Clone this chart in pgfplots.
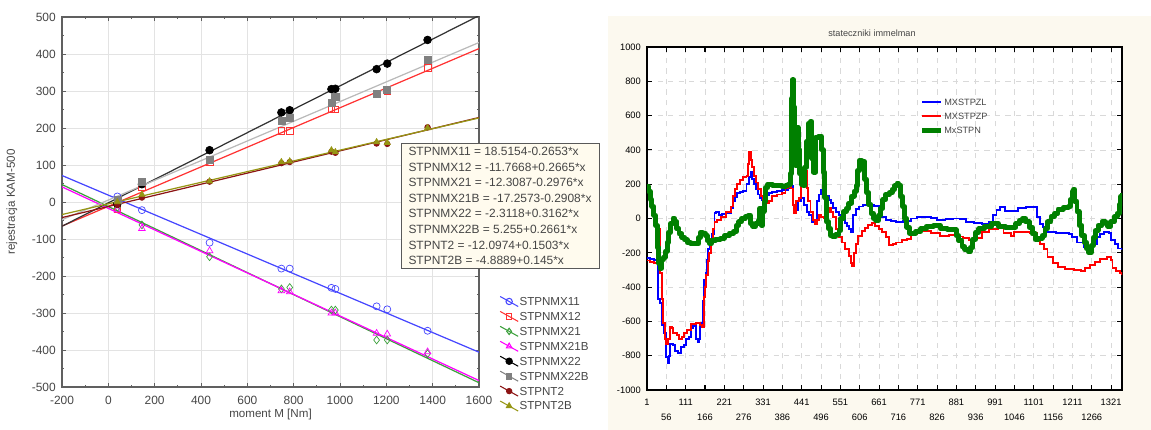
\documentclass[border=0pt]{standalone}
\usepackage{fontspec}
\setmainfont{Liberation Sans}
\usepackage{pgfplots}
\pgfplotsset{compat=1.18}

\definecolor{panelbg}{RGB}{252,249,239}
\definecolor{boxbg}{RGB}{255,251,238}
\definecolor{c11}{RGB}{70,70,255}
\definecolor{c12}{RGB}{255,50,50}
\definecolor{c21}{RGB}{60,160,60}
\definecolor{c21b}{RGB}{255,0,255}
\definecolor{c22b}{RGB}{150,150,150}
\definecolor{ct2}{RGB}{140,20,20}
\definecolor{ct2b}{RGB}{150,150,20}
\definecolor{tickgray}{RGB}{70,70,70}

\pgfplotsset{
  diaglegend/.style={legend image code/.code={
    \draw[##1, mark=none] (0cm,0.1cm) -- (0.36cm,-0.1cm);
    \draw[##1] plot coordinates {(0.18cm,0cm)};}},
}

\begin{document}
\begin{tikzpicture}
\path[use as bounding box] (0,0) rectangle (23.02cm,8.6cm);

% ---------- left panel: regressions ----------
\begin{axis}[
  name=L, at={(1.24cm,0.86cm)}, anchor=south west,
  width=8.34cm, height=7.40cm, scale only axis,
  xmin=-200, xmax=1600, ymin=-500, ymax=500,
  xtick={-200,0,...,1600}, ytick={-500,-400,...,500},
  minor x tick num=1, minor y tick num=1,
  tick align=inside, major tick length=2.2pt, minor tick length=1.4pt,
  grid=major, major grid style={gray!22, line width=0.4pt},
  axis line style={gray!75!black, line width=0.8pt},
  tick style={gray!75!black, line width=0.5pt},
  tick label style={font=\fontsize{6.8}{8}\selectfont, text=tickgray},
  xticklabel style={yshift=-1.8pt},
  /pgf/number format/assume math mode=true,
  /pgf/number format/1000 sep={},
  xlabel={moment M [Nm]}, ylabel={rejestracja KAM-500},
  label style={font=\fontsize{6.6}{8}\selectfont, text=tickgray},
  xlabel style={at={(axis description cs:0.5,-0.074)}, anchor=center},
  ylabel style={at={(axis description cs:-0.12,0.5)}, anchor=center},
  legend style={at={(1.036,0.257)}, anchor=north west, draw=none, fill=none,
    font=\fontsize{6.6}{8}\selectfont, text=tickgray, row sep=2.0pt,
    nodes={inner sep=0.5pt, text height=5pt, text depth=0.5pt},
    /tikz/every even column/.append style={column sep=3pt}},
  legend cell align=left,
]
% fitted lines
\addplot[c11, line width=0.7pt, forget plot] coordinates {(-200,71.58) (1600,-405.96)};
\addplot[c12, line width=0.7pt, forget plot] coordinates {(-200,-65.07) (1600,414.63)};
\addplot[c21, line width=0.7pt, forget plot] coordinates {(-200,47.21) (1600,-488.47)};
\addplot[c21b, line width=0.7pt, forget plot] coordinates {(-200,40.90) (1600,-482.54)};
\addplot[black!80, line width=0.7pt, forget plot] coordinates {(-200,-65.55) (1600,503.61)};
\addplot[gray!55, line width=0.7pt, forget plot] coordinates {(-200,-47.97) (1600,431.02)};
\addplot[ct2, line width=0.7pt, forget plot] coordinates {(-200,-42.16) (1600,228.38)};
\addplot[ct2b, line width=0.7pt, forget plot] coordinates {(-200,-33.89) (1600,227.11)};
% measured points
\addplot[c11, only marks, mark=o, mark size=2pt, forget plot] coordinates {
 (39,15) (145,-22) (437,-110) (747,-180) (783,-180) (963,-232) (980,-235) (1158,-282) (1204,-290) (1378,-348)};
\addplot[c12, only marks, mark=square, mark size=1.9pt, forget plot] coordinates {
 (39,-20) (145,40) (437,108) (747,193) (783,193) (963,250) (980,250) (1158,292) (1204,300) (1378,362)};
\addplot[c21, only marks, mark=diamond, mark size=2.2pt, forget plot] coordinates {
 (39,-15) (145,-62) (437,-148) (747,-235) (783,-231) (963,-292) (980,-292) (1158,-373) (1204,-373) (1378,-410)};
\addplot[c21b, only marks, mark=triangle, mark size=2.2pt, forget plot] coordinates {
 (39,-22) (145,-72) (437,-132) (747,-240) (783,-243) (963,-300) (980,-300) (1158,-355) (1204,-357) (1378,-405)};
\addplot[black, only marks, mark=*, mark size=2.2pt, forget plot] coordinates {
 (39,-5) (145,48) (437,140) (747,242) (783,248) (963,305) (980,306) (1158,359) (1204,374) (1378,438)};
\addplot[gray, only marks, mark=square*, mark size=2pt, forget plot] coordinates {
 (39,5) (145,55) (437,115) (747,218) (783,228) (963,268) (980,283) (1158,292) (1204,302) (1378,385)};
\addplot[ct2, only marks, mark=*, mark size=1.6pt, forget plot] coordinates {
 (39,-8) (145,12) (437,55) (747,105) (783,108) (963,136) (980,133) (1158,158) (1204,157) (1378,202)};
\addplot[ct2b, only marks, mark=triangle*, mark size=2pt, forget plot] coordinates {
 (39,0) (145,20) (437,56) (747,108) (783,110) (963,140) (980,135) (1158,162) (1204,160) (1378,200)};
% legend
\addlegendimage{c11, mark=o, mark size=1.8pt, line width=0.6pt, diaglegend}
\addlegendentry{STPNMX11}
\addlegendimage{c12, mark=square, mark size=1.6pt, line width=0.6pt, diaglegend}
\addlegendentry{STPNMX12}
\addlegendimage{c21, mark=diamond, mark size=1.8pt, line width=0.6pt, diaglegend}
\addlegendentry{STPNMX21}
\addlegendimage{c21b, mark=triangle, mark size=1.8pt, line width=0.6pt, diaglegend}
\addlegendentry{STPNMX21B}
\addlegendimage{black, mark=*, mark size=1.8pt, line width=0.6pt, diaglegend}
\addlegendentry{STPNMX22}
\addlegendimage{gray, mark=square*, mark size=1.6pt, line width=0.6pt, diaglegend}
\addlegendentry{STPNMX22B}
\addlegendimage{ct2, mark=*, mark size=1.5pt, line width=0.6pt, diaglegend}
\addlegendentry{STPNT2}
\addlegendimage{ct2b, mark=triangle*, mark size=1.8pt, line width=0.6pt, diaglegend}
\addlegendentry{STPNT2B}
\end{axis}

\node[anchor=north west, draw=gray!70!black, line width=0.6pt, fill=boxbg,
  minimum width=3.96cm, minimum height=2.5cm, inner sep=2pt, align=left,
  font=\fontsize{6.8}{8.85}\selectfont, text=tickgray] at (8.01cm,5.74cm) {%
STPNMX11 = 18.5154-0.2653*x\\
STPNMX12 = -11.7668+0.2665*x\\
STPNMX21 = -12.3087-0.2976*x\\
STPNMX21B = -17.2573-0.2908*x\\
STPNMX22 = -2.3118+0.3162*x\\
STPNMX22B = 5.255+0.2661*x\\
STPNT2 = -12.0974+0.1503*x\\
STPNT2B = -4.8889+0.145*x};

% ---------- right panel: time series ----------
\fill[panelbg] (12.16cm,0) rectangle (23.02cm,8.28cm);
\node[font=\fontsize{5.2}{6}\selectfont, text=tickgray] at (17.44cm,7.94cm) {stateczniki immelman};

\begin{axis}[
  name=R, at={(12.94cm,0.80cm)}, anchor=south west,
  width=9.50cm, height=6.86cm, scale only axis,
  xmin=1, xmax=1352, ymin=-1000, ymax=1000,
  xtick={1,111,...,1321}, ytick={-1000,-800,...,1000},
  extra x ticks={56,166,...,1266},
  extra x tick style={grid=major, tick label style={yshift=-8.5pt}},
  tick align=inside, major tick length=2.8pt,
  axis line style={black, line width=1.1pt},
  tick style={black, line width=0.6pt},
  grid=major, major grid style={gray!30, dashed, line width=0.4pt},
  axis background/.style={fill=white},
  tick label style={font=\fontsize{5.3}{6}\selectfont},
  xticklabel style={yshift=-1.8pt},
  /pgf/number format/assume math mode=true,
  /pgf/number format/1000 sep={},
  legend style={at={(0.562,0.865)}, anchor=north west, draw=none, fill=none,
    font=\fontsize{5.2}{6}\selectfont, text=tickgray, row sep=2.6pt,
    nodes={inner sep=0.5pt, text height=4pt, text depth=0.5pt},
    /tikz/every even column/.append style={column sep=2pt}},
  legend cell align=left,
  legend image code/.code={\draw[#1] (0cm,0cm) -- (0.38cm,0cm);},
]
\addplot[blue, line width=1.1pt, const plot] coordinates {
(1,-230) (10,-235) (20,-240) (30,-245) (33,-470) (38,-495) (44,-620) (50,-670)
(55,-810) (60,-845) (64,-800) (67,-730) (75,-740) (80,-770) (90,-785) (98,-750)
(106,-740) (112,-700) (120,-690) (125,-640) (132,-625) (139,-620) (141,-700)
(146,-720) (150,-700) (153,-610) (160,-480) (164,-360) (168,-320) (171,-240)
(175,-180) (180,-130) (186,-90) (193,30) (198,40) (205,20) (215,25) (225,30)
(239,60) (245,100) (250,125) (257,150) (265,155) (275,160) (284,200) (290,240)
(296,270) (300,230) (305,200) (310,170) (316,140) (322,120) (328,110) (334,120)
(340,135) (348,150) (357,155) (370,160) (385,165) (402,180) (410,190) (416,80)
(422,50) (430,100) (438,120) (447,80) (455,40) (462,20) (470,-20) (478,-30)
(484,100) (490,140) (497,165) (505,150) (511,130) (518,110) (525,90) (529,60)
(538,40) (547,20) (556,-5) (563,-25) (570,-45) (575,-60) (580,-80) (588,20)
(595,55) (605,70) (615,80) (630,80) (647,75) (660,40) (670,10) (680,-10)
(695,-15) (710,-18) (730,-15) (753,0) (770,10) (790,10) (810,5) (826,-10)
(850,-5) (872,0) (890,-5) (909,-18) (930,-28) (955,-30) (973,-20) (985,20)
(995,50) (1005,69) (1019,45) (1040,45) (1055,60) (1080,65) (1100,68) (1110,10)
(1120,-30) (1128,-50) (1140,-80) (1165,-85) (1200,-90) (1210,-110) (1225,-140)
(1245,-165) (1262,-175) (1270,-150) (1280,-110) (1290,-90) (1300,-80) (1315,-85)
(1320,-125) (1332,-150) (1340,-175) (1352,-185)};
\addlegendentry{MXSTPZL}
\addplot[red, line width=1.1pt, const plot] coordinates {
(1,-245) (10,-255) (20,-260) (28,-250) (32,-70) (36,-60) (39,-320) (43,-470)
(47,-610) (52,-700) (56,-730) (60,-700) (66,-630) (72,-640) (76,-670) (85,-680)
(92,-700) (100,-690) (107,-670) (115,-650) (125,-615) (140,-610) (153,-620)
(158,-630) (162,-460) (166,-400) (170,-330) (174,-250) (178,-200) (182,-120)
(188,-60) (193,-20) (200,-10) (212,10) (225,40) (239,70) (245,130) (252,170)
(257,200) (265,225) (275,240) (284,250) (288,320) (292,390) (296,340) (300,300)
(306,250) (312,210) (318,170) (325,130) (332,108) (339,90) (348,100) (357,130)
(370,140) (384,150) (395,175) (402,185) (410,175) (416,80) (420,30) (425,100)
(432,120) (440,200) (446,250) (450,275) (455,180) (460,100) (466,40) (472,-10)
(478,-30) (484,-10) (490,20) (497,10) (504,0) (511,40) (518,60) (524,40)
(529,10) (538,-60) (547,-110) (556,-140) (565,-180) (575,-220) (582,-260)
(585,-275) (590,-200) (595,-150) (602,-100) (612,-75) (620,-55) (630,-40)
(640,-28) (650,-45) (660,-60) (670,-80) (680,-110) (690,-155) (700,-150)
(710,-140) (725,-125) (740,-118) (753,-90) (770,-70) (789,-75) (810,-85)
(835,-100) (860,-98) (881,-105) (900,-115) (918,-125) (935,-115) (954,-80)
(975,-60) (1000,-45) (1015,-85) (1035,-100) (1046,-80) (1070,-80) (1090,-85)
(1110,-110) (1120,-150) (1130,-180) (1140,-225) (1155,-260) (1170,-285)
(1190,-295) (1215,-300) (1235,-305) (1248,-290) (1260,-270) (1275,-255)
(1290,-235) (1310,-225) (1320,-240) (1325,-290) (1335,-305) (1345,-320) (1352,-330)};
\addlegendentry{MXSTPZP}
\addplot[green!50!black, line width=2.8pt, line join=round, const plot] coordinates {
(1,185) (5,160) (10,110) (15,70) (20,20) (25,-40) (30,-170) (35,-260) (38,-290)
(42,-240) (48,-225) (53,-190) (58,-140) (62,-80) (68,-30) (75,0) (80,-20)
(86,-60) (92,-90) (100,-110) (108,-125) (115,-140) (125,-145) (140,-148)
(148,-110) (153,-80) (160,-85) (167,-100) (172,-130) (178,-145) (184,-130)
(195,-120) (210,-115) (221,-100) (235,-85) (248,-75) (255,-40) (262,-20) (270,0)
(280,10) (289,20) (295,-30) (302,-45) (310,-30) (318,-10) (322,60) (326,-40)
(330,40) (334,100) (338,180) (345,200) (357,195) (370,195) (385,185) (395,190)
(402,200) (408,260) (412,700) (415,808) (418,650) (421,400) (424,310) (427,530)
(431,400) (435,260) (440,200) (446,190) (450,300) (455,450) (460,555) (466,565)
(470,350) (475,270) (480,470) (490,480) (497,400) (502,270) (507,120) (511,-20)
(517,-60) (523,-100) (529,-105) (538,-95) (547,-70) (552,0) (560,40) (568,60)
(575,90) (583,130) (590,160) (596,190) (600,280) (605,340) (612,330) (620,230)
(626,150) (632,80) (638,30) (645,0) (652,-10) (660,20) (665,60) (672,110)
(680,140) (690,150) (698,170) (705,190) (712,205) (716,195) (722,130) (728,70)
(734,0) (740,-50) (747,-85) (753,-90) (765,-75) (780,-60) (795,-45) (817,-40)
(835,-60) (855,-65) (872,-65) (880,-100) (888,-130) (897,-165) (905,-180)
(915,-195) (920,-170) (928,-120) (936,-80) (945,-60) (960,-45) (982,-30)
(1000,-45) (1020,-55) (1037,-50) (1050,-30) (1060,-10) (1070,0) (1078,-20)
(1088,-50) (1097,-90) (1105,-120) (1115,-115) (1125,-100) (1133,-60) (1140,-20)
(1150,10) (1160,30) (1170,55) (1185,65) (1200,70) (1205,110) (1211,160)
(1214,170) (1218,100) (1224,40) (1230,-40) (1238,-100) (1245,-140) (1252,-175)
(1258,-200) (1264,-160) (1270,-110) (1276,-70) (1284,-40) (1295,-20) (1305,-30)
(1312,-45) (1320,-20) (1330,10) (1338,30) (1344,80) (1348,130) (1352,150)};
\addlegendentry{MxSTPN}
\end{axis}
\end{tikzpicture}
\end{document}
